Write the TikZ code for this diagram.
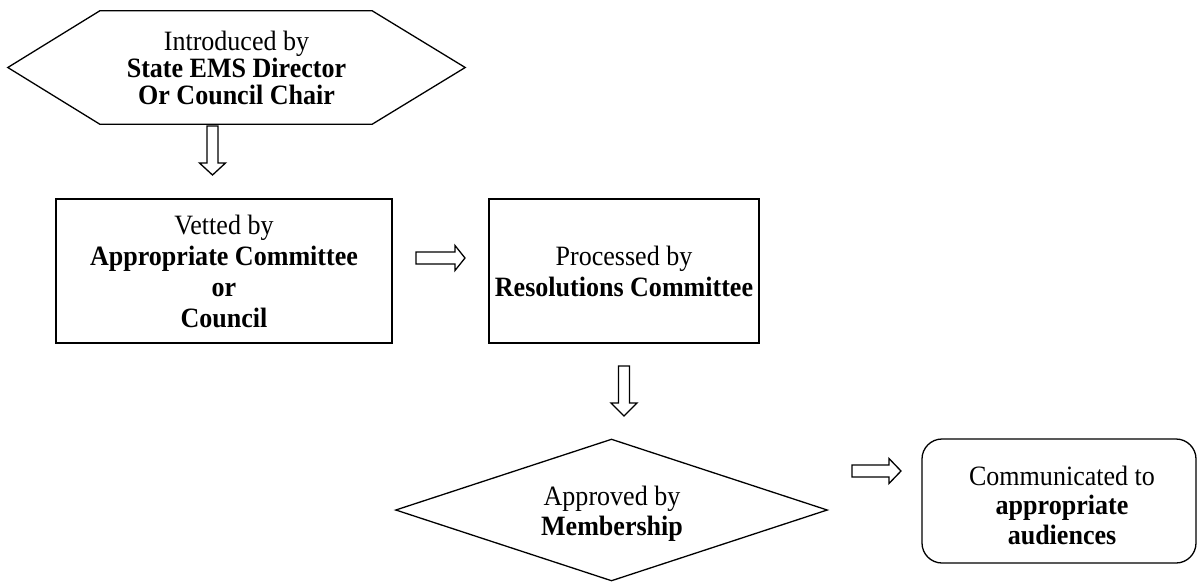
\documentclass[tikz,border=0pt]{standalone}
\usepackage{fontspec}
\setmainfont[FakeStretch=0.93]{Liberation Serif}
\usetikzlibrary{calc}
\newcommand\downblk[4]{% cx, top, headstart, tip
  \draw[blockarrow] ({#1-5.5},#2) -- ({#1+5.5},#2) -- ({#1+5.5},#3) -- ({#1+13},#3)
    -- (#1,#4) -- ({#1-13},#3) -- ({#1-5.5},#3) -- cycle;}
\newcommand\rightblk[4]{% cy, left, headstart, tip
  \draw[blockarrow] (#2,{#1-6}) -- (#2,{#1+6}) -- (#3,{#1+6}) -- (#3,{#1+12.5})
    -- (#4,#1) -- (#3,{#1-12.5}) -- (#3,{#1-6}) -- cycle;}
\begin{document}
\begin{tikzpicture}[x=1pt,y=-1pt,
  txt/.style={align=center, font=\fontsize{28}{27}\selectfont, inner sep=0pt},
  boxtxt/.style={align=center, font=\fontsize{28}{31}\selectfont, inner sep=0pt},
  midtxt/.style={align=center, font=\fontsize{28}{29.5}\selectfont, inner sep=0pt},
  outline/.style={draw, line width=1.3pt, line join=miter},
  boxstyle/.style={draw, line width=1.6pt},
  blockarrow/.style={draw, line width=1.3pt, fill=white, line join=miter}]
\useasboundingbox (0,0) rectangle (1202,582);
% hexagon
\node[txt, minimum width=457pt, minimum height=113pt] (hex) at (236.5,67.5)
  {Introduced by\\\textbf{State EMS Director}\\\textbf{Or Council Chair}};
\draw[outline] (hex.west) -- ($(hex.north west)+(92,0)$) -- ($(hex.north east)+(-93,0)$)
  -- (hex.east) -- ($(hex.south east)+(-93,0)$) -- ($(hex.south west)+(92,0)$) -- cycle;
% boxes
\node[boxtxt, boxstyle, minimum width=336pt, minimum height=144pt] (vet) at (224,271)
  {Vetted by\\\textbf{Appropriate Committee}\\\textbf{or}\\\textbf{Council}};
\node[boxtxt, boxstyle, minimum width=270pt, minimum height=144pt] (proc) at (624,271)
  {Processed by\\\textbf{Resolutions Committee}};
% diamond
\node[minimum width=431pt, minimum height=141pt, inner sep=0pt] (appr) at (611.5,510) {};
\draw[outline] (appr.west) -- (appr.north) -- (appr.east) -- (appr.south) -- cycle;
\node[midtxt] (apprtxt) at (612,514) {Approved by\\\textbf{Membership}};
% rounded rectangle
\node[boxstyle, line width=1.3pt, rounded corners=20pt, minimum width=274pt, minimum height=124pt] (comm) at (1059,501) {};
\node[midtxt] (commtxt) at (1062,505) {Communicated to\\\textbf{appropriate}\\\textbf{audiences}};
% block arrows
\downblk{212.5}{126}{163}{175}
\rightblk{258}{416}{455}{465}
\downblk{624}{366}{403}{416}
\rightblk{471}{852}{889}{901}
\end{tikzpicture}
\end{document}
